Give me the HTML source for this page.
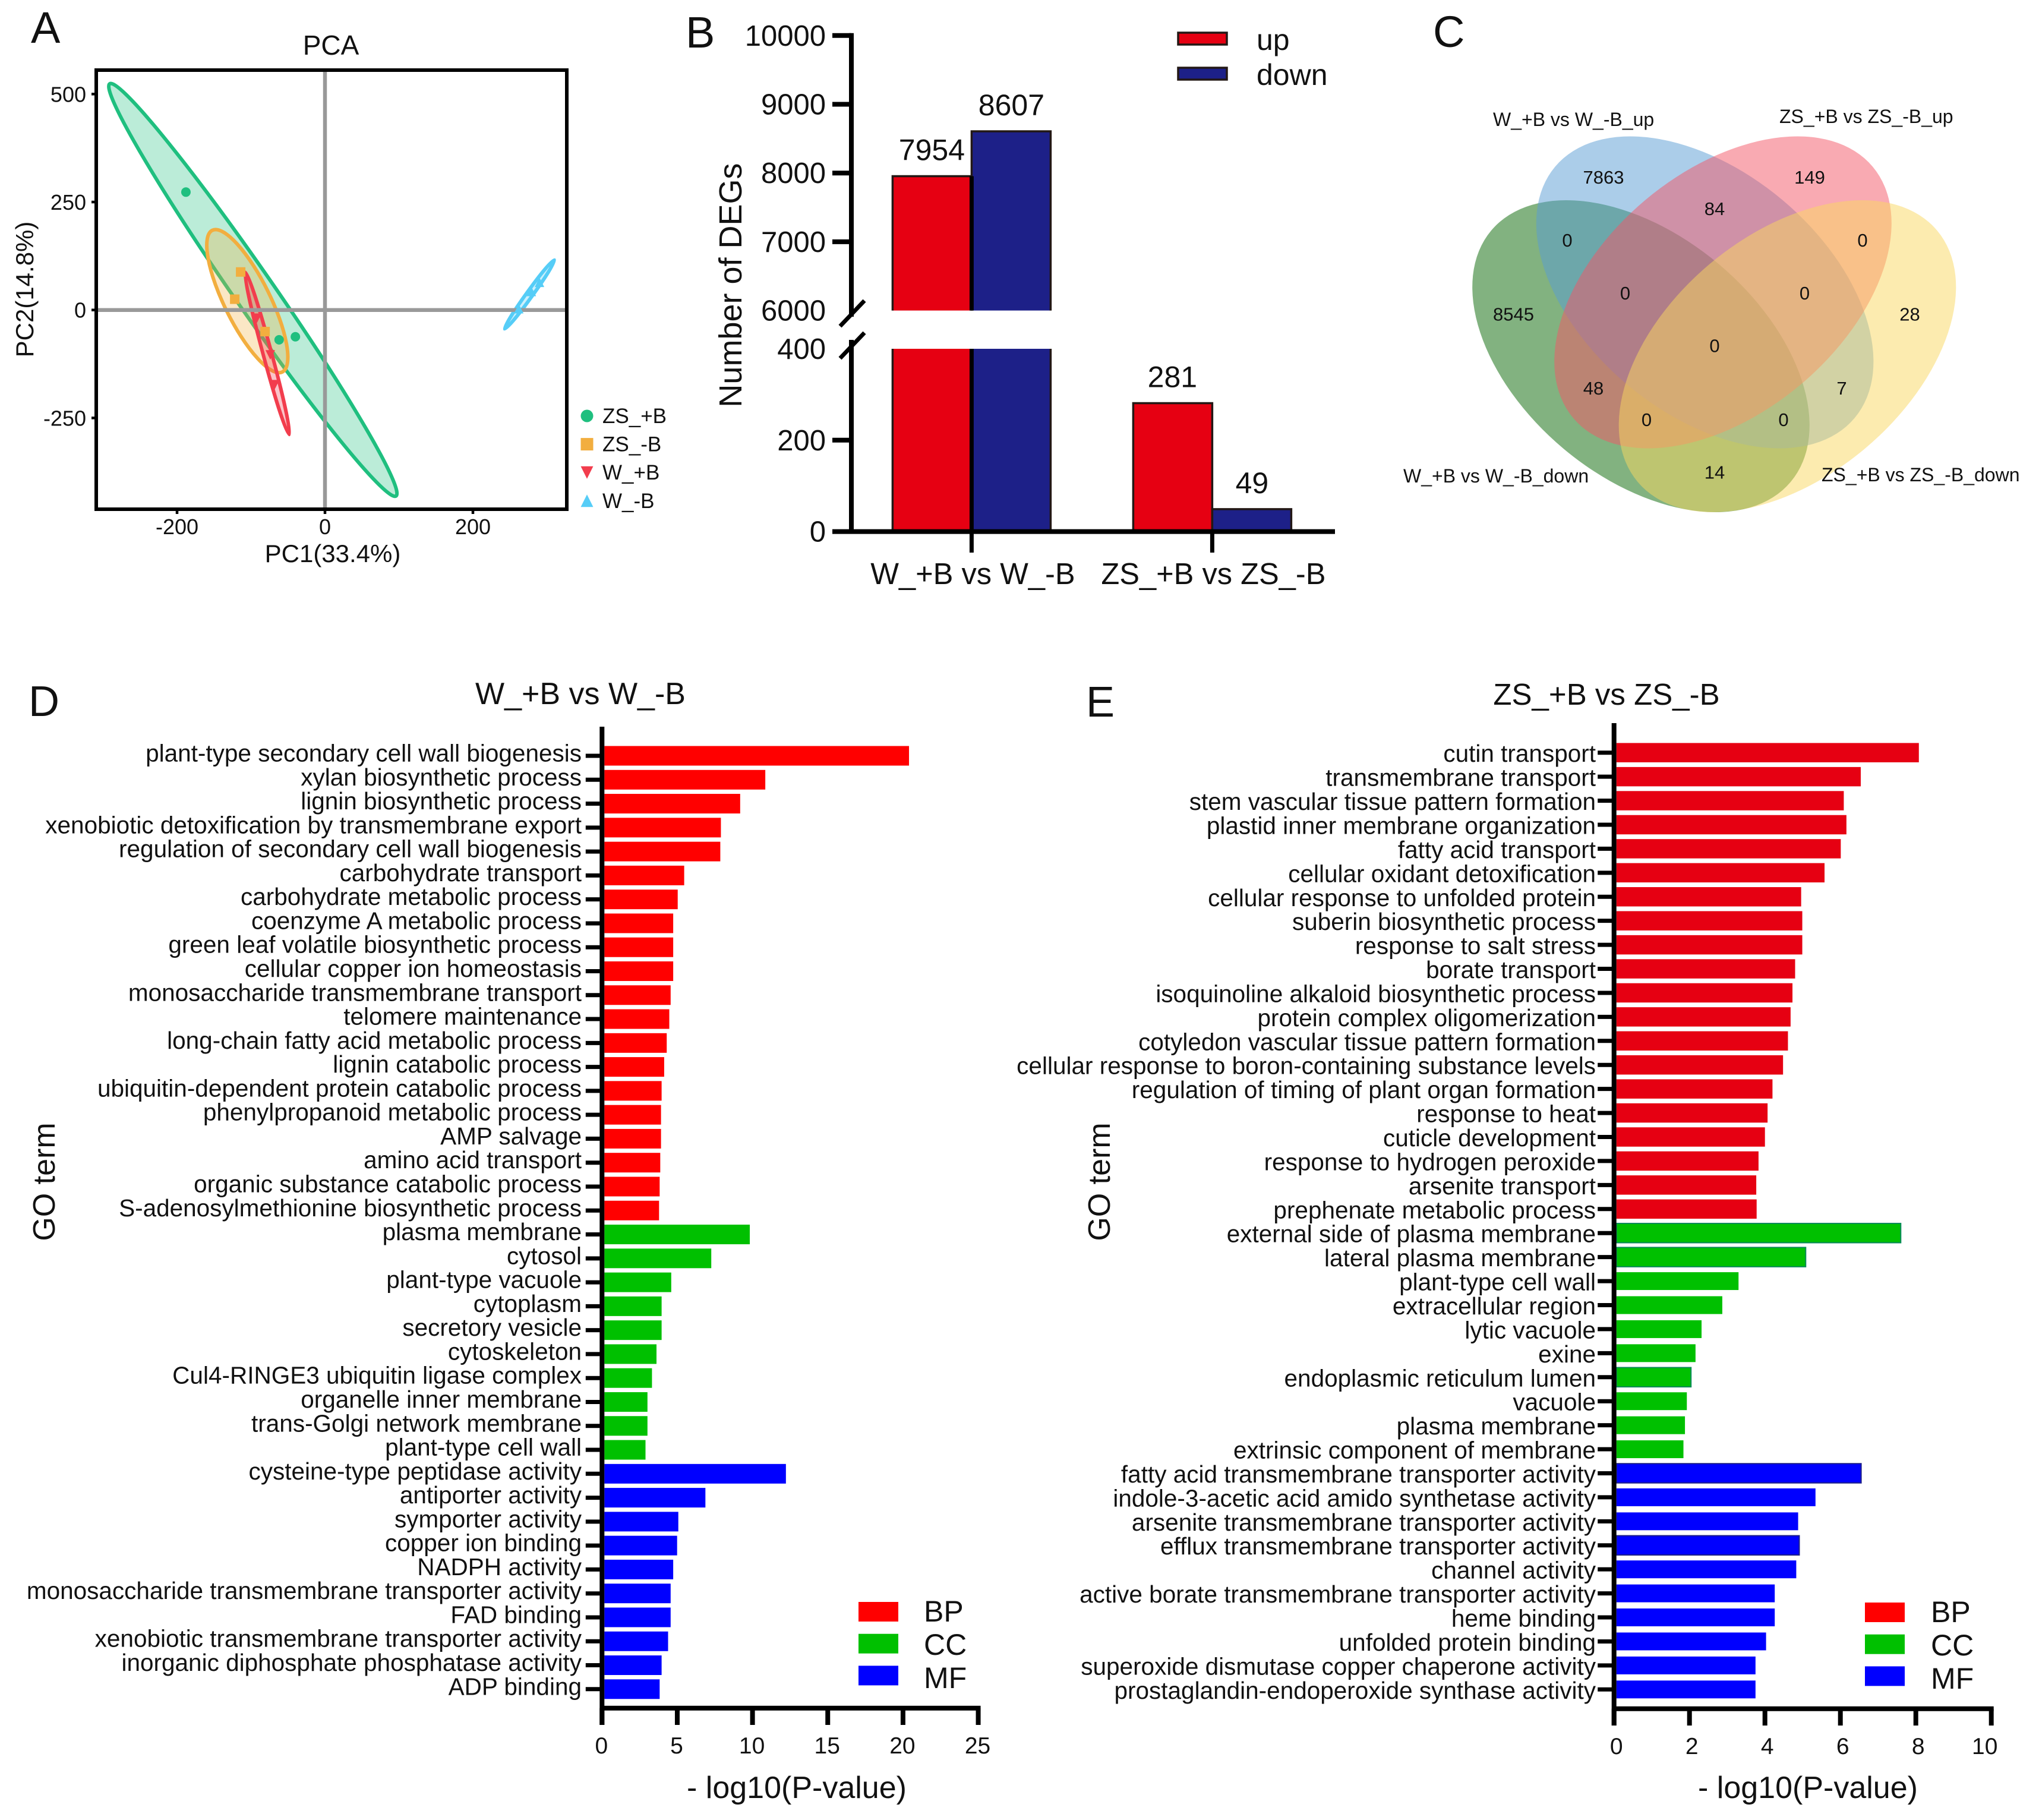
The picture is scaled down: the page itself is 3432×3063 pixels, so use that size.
<!DOCTYPE html>
<html lang="en">
<head>
<meta charset="utf-8">
<title>Transcriptome figure: PCA, DEGs, Venn and GO enrichment</title>
<style>
html,body{margin:0;padding:0;background:#fff;}
svg{display:block;}
text{font-family:"Liberation Sans",Arial,sans-serif;fill:#111;}
</style>
</head>
<body>
<svg id="fig" xmlns="http://www.w3.org/2000/svg" width="3432" height="3063" viewBox="0 0 3432 3063">
  <rect width="3432" height="3063" fill="#fff"/>

  <text x="52" y="72" font-size="74">A</text>
  <text x="1154" y="80" font-size="74">B</text>
  <text x="2412" y="79" font-size="74">C</text>
  <text x="48" y="1205" font-size="72">D</text>
  <text x="1828" y="1206" font-size="72">E</text>

  <g id="pca"></g>
  <g id="deg"></g>

  <g id="venn">
    <ellipse cx="2762" cy="599.5" rx="329" ry="203" transform="rotate(40 2762 599.5)" fill="#056501" fill-opacity="0.5"/>
    <ellipse cx="2869.6" cy="492" rx="329" ry="203" transform="rotate(40 2869.6 492)" fill="#579bd3" fill-opacity="0.5"/>
    <ellipse cx="2900" cy="492" rx="329" ry="203" transform="rotate(-40 2900 492)" fill="#f35565" fill-opacity="0.5"/>
    <ellipse cx="3008.5" cy="599.5" rx="329" ry="203" transform="rotate(-40 3008.5 599.5)" fill="#f9d85f" fill-opacity="0.5"/>
    <g font-size="32">
      <text x="2513" y="212">W_+B vs W_-B_up</text>
      <text x="2995" y="207">ZS_+B vs ZS_-B_up</text>
      <text x="2362" y="812">W_+B vs W_-B_down</text>
      <text x="3066" y="810">ZS_+B vs ZS_-B_down</text>
    </g>
    <g font-size="31" text-anchor="middle">
      <text x="2699" y="309">7863</text>
      <text x="3046" y="309">149</text>
      <text x="2886" y="362">84</text>
      <text x="2638" y="415">0</text>
      <text x="3135" y="415">0</text>
      <text x="2735.5" y="504">0</text>
      <text x="3037.5" y="504">0</text>
      <text x="2547.5" y="539.5">8545</text>
      <text x="3214.5" y="539.5">28</text>
      <text x="2886" y="592.5">0</text>
      <text x="2682" y="664">48</text>
      <text x="3100" y="664">7</text>
      <text x="2771.5" y="717">0</text>
      <text x="3002" y="717">0</text>
      <text x="2886" y="805.5">14</text>
    </g>
  </g>

  <g id="goD"></g>
  <g id="goE"></g>
</svg>

<script>
/* ---------- Panel A data ---------- */
const pcaGroups = ["ZS_+B", "ZS_-B", "W_+B", "W_-B"];
const pcaXTicks = [-200, 0, 200];
const pcaYTicks = [500, 250, 0, -250];
const pcaPc1 = [[-188, -62, -40], [-114, -122, -81], [-92, -74, -68], [290, 279, 262]];
const pcaPc2 = [[273, -69, -62], [88, 25, -50], [-19, -104, -173], [64, 43, 3]];
const ellipseTipA = [[-292, 526], [-153, 187], [-108, 90], [311, 118]];
const ellipseTipB = [[97, -433], [-57, -146], [-48, -291], [242, -46]];
const ellipseAspect = [0.078, 0.285, 0.05, 0.07];

/* ---------- Panel B data ---------- */
const degCategories = ["W_+B vs W_-B", "ZS_+B vs ZS_-B"];
const degUp = [7954, 281];
const degDown = [8607, 49];
const degUpperTicks = [10000, 9000, 8000, 7000, 6000];
const degLowerTicks = [400, 200, 0];

/* ---------- Panel D data ---------- */
const dTerms = ["plant-type secondary cell wall biogenesis","xylan biosynthetic process","lignin biosynthetic process","xenobiotic detoxification by transmembrane export","regulation of secondary cell wall biogenesis","carbohydrate transport","carbohydrate metabolic process","coenzyme A metabolic process","green leaf volatile biosynthetic process","cellular copper ion homeostasis","monosaccharide transmembrane transport","telomere maintenance","long-chain fatty acid metabolic process","lignin catabolic process","ubiquitin-dependent protein catabolic process","phenylpropanoid metabolic process","AMP salvage","amino acid transport","organic substance catabolic process","S-adenosylmethionine biosynthetic process","plasma membrane","cytosol","plant-type vacuole","cytoplasm","secretory vesicle","cytoskeleton","Cul4-RINGE3 ubiquitin ligase complex","organelle inner membrane","trans-Golgi network membrane","plant-type cell wall","cysteine-type peptidase activity","antiporter activity","symporter activity","copper ion binding","NADPH activity","monosaccharide transmembrane transporter activity","FAD binding","xenobiotic transmembrane transporter activity","inorganic diphosphate phosphatase activity","ADP binding"];
const dValues = [20.4,10.85,9.18,7.9,7.86,5.46,5.03,4.73,4.73,4.73,4.56,4.47,4.3,4.13,3.96,3.92,3.92,3.87,3.83,3.79,9.82,7.26,4.6,3.96,3.96,3.62,3.32,3.02,3.02,2.89,12.22,6.87,5.07,4.99,4.73,4.56,4.56,4.39,3.96,3.83];
const dXTicks = [0, 5, 10, 15, 20, 25];

/* ---------- Panel E data ---------- */
const eTerms = ["cutin transport","transmembrane transport","stem vascular tissue pattern formation","plastid inner membrane organization","fatty acid transport","cellular oxidant detoxification","cellular response to unfolded protein","suberin biosynthetic process","response to salt stress","borate transport","isoquinoline alkaloid biosynthetic process","protein complex oligomerization","cotyledon vascular tissue pattern formation","cellular response to boron-containing substance levels","regulation of timing of plant organ formation","response to heat","cuticle development","response to hydrogen peroxide","arsenite transport","prephenate metabolic process","external side of plasma membrane","lateral plasma membrane","plant-type cell wall","extracellular region","lytic vacuole","exine","endoplasmic reticulum lumen","vacuole","plasma membrane","extrinsic component of membrane","fatty acid transmembrane transporter activity","indole-3-acetic acid amido synthetase activity","arsenite transmembrane transporter activity","efflux transmembrane transporter activity","channel activity","active borate transmembrane transporter activity","heme binding","unfolded protein binding","superoxide dismutase copper chaperone activity","prostaglandin-endoperoxide synthase activity"];
const eValues = [8.08,6.54,6.09,6.16,6.01,5.58,4.96,4.99,4.99,4.8,4.73,4.68,4.61,4.48,4.2,4.07,4,3.83,3.77,3.78,7.6,5.08,3.3,2.87,2.32,2.16,2.04,1.93,1.88,1.84,6.55,5.34,4.88,4.91,4.83,4.26,4.26,4.03,3.75,3.75];
const eXTicks = [0, 2, 4, 6, 8, 10];
const goGroups = ["BP", "CC", "MF"];
const goGroupSizes = [20, 10, 10];

const NS = "http://www.w3.org/2000/svg";
function mk(parent, tag, attrs, txt) {
  const el = document.createElementNS(NS, tag);
  for (const k in attrs) el.setAttribute(k, attrs[k]);
  if (txt !== undefined) el.textContent = txt;
  parent.appendChild(el);
  return el;
}

/* ---------- Panel A ---------- */
(function () {
  const g = document.getElementById("pca");
  const px = v => 547 + 1.245 * v;
  const py = v => 521.7 - 0.7268 * v;
  const colors = ["#1fbf7f", "#f2ae3f", "#f23d4d", "#56cdf7"];

  pcaGroups.forEach((name, i) => {
    const x1 = px(ellipseTipA[i][0]), y1 = py(ellipseTipA[i][1]);
    const x2 = px(ellipseTipB[i][0]), y2 = py(ellipseTipB[i][1]);
    const half = Math.hypot(x2 - x1, y2 - y1) / 2;
    const cx = (x1 + x2) / 2, cy = (y1 + y2) / 2;
    const ang = Math.atan2(y2 - y1, x2 - x1) * 180 / Math.PI;
    const e = mk(g, "ellipse", { cx: cx, cy: cy, rx: half - 2, ry: half * ellipseAspect[i],
      transform: "rotate(" + ang + " " + cx + " " + cy + ")",
      fill: colors[i], "fill-opacity": 0.3, stroke: colors[i], "stroke-width": 6 });
    
    
  });

  const h0 = mk(g, "line", { x1: 162, x2: 954, y1: py(0), y2: py(0), stroke: "#999", "stroke-width": 6.5 });
  
  
  const v0 = mk(g, "line", { x1: px(0), x2: px(0), y1: 118, y2: 857, stroke: "#999", "stroke-width": 6.5 });
  
  

  const frame = mk(g, "rect", { x: 162, y: 118, width: 792, height: 739, fill: "none", stroke: "#000", "stroke-width": 6 });
  
  

  function marker(i, x, y, s) {
    if (i === 0) return mk(g, "circle", { cx: x, cy: y, r: s, fill: colors[0] });
    if (i === 1) return mk(g, "rect", { x: x - s, y: y - s, width: 2 * s, height: 2 * s, fill: colors[1] });
    if (i === 2) return mk(g, "polygon", { points: (x - s) + "," + (y - s) + " " + (x + s) + "," + (y - s) + " " + x + "," + (y + s), fill: colors[2] });
    return mk(g, "polygon", { points: (x - s) + "," + (y + s) + " " + (x + s) + "," + (y + s) + " " + x + "," + (y - s), fill: colors[3] });
  }
  pcaGroups.forEach((name, i) => {
    pcaPc1[i].forEach((v, j) => {
      const m = marker(i, px(v), py(pcaPc2[i][j]), 8);
      
      
    });
    const y = 700 + i * 47.6;
    const lm = marker(i, 988, y, 10.5);
    
    
    const lt = mk(g, "text", { x: 1014, y: y + 12, "font-size": 35 }, name);
    
    
  });

  pcaXTicks.forEach(v => {
    const t = mk(g, "line", { x1: px(v), x2: px(v), y1: 857, y2: 865, stroke: "#000", "stroke-width": 4.5 });
    
    
    const l = mk(g, "text", { x: px(v), y: 899, "font-size": 36, "text-anchor": "middle" }, v);
    
    
  });
  pcaYTicks.forEach(v => {
    const t = mk(g, "line", { x1: 154, x2: 162, y1: py(v), y2: py(v), stroke: "#000", "stroke-width": 4.5 });
    
    
    const l = mk(g, "text", { x: 145, y: py(v) + 13, "font-size": 36, "text-anchor": "end" }, v);
    
    
  });

  const title = mk(g, "text", { x: 557, y: 92, "font-size": 46, "text-anchor": "middle" }, "PCA");
  
  
  const xt = mk(g, "text", { x: 560, y: 946, "font-size": 42, "text-anchor": "middle" }, "PC1(33.4%)");
  
  
  const yt = mk(g, "text", { transform: "translate(56,487) rotate(-90)", "font-size": 42, "text-anchor": "middle" }, "PC2(14.8%)");
  
  
})();

/* ---------- Panel B ---------- */
(function () {
  const g = document.getElementById("deg");
  const BREAK_LOW = 400, BREAK_HIGH = 6000;
  const yLow = v => 894.6 - 0.769 * v;
  const yHigh = v => 522.6 - 0.1157 * (v - BREAK_HIGH);
  const y = v => v >= BREAK_HIGH ? yHigh(v) : yLow(Math.min(v, BREAK_LOW));
  const groupX = i => 1635.4 + 405 * i;
  const barW = 133;
  const seriesFill = ["#e60012", "#1d2088"];
  const edge = "#231815";

  function drawBar(x0, v, fill) {
    const x1 = x0 + barW;
    const parts = [];
    if (v > BREAK_LOW) {
      parts.push([y(v), yHigh(BREAK_HIGH), "M" + x0 + "," + yHigh(BREAK_HIGH) + "V" + y(v) + "H" + x1 + "V" + yHigh(BREAK_HIGH)]);
      parts.push([yLow(BREAK_LOW), yLow(0), "M" + x0 + "," + yLow(BREAK_LOW) + "V" + yLow(0) + "M" + x1 + "," + yLow(BREAK_LOW) + "V" + yLow(0)]);
    } else {
      parts.push([yLow(v), yLow(0), "M" + x0 + "," + yLow(0) + "V" + yLow(v) + "H" + x1 + "V" + yLow(0)]);
    }
    parts.forEach(p => {
      const r = mk(g, "rect", { x: x0, y: p[0], width: barW, height: p[1] - p[0], fill: fill });
      
      
      const o = mk(g, "path", { d: p[2], fill: "none", stroke: edge, "stroke-width": 3.5 });
      
      
    });
  }

  degCategories.forEach((cat, i) => {
    const cx = groupX(i);
    drawBar(cx - barW, degUp[i], seriesFill[0]);
    drawBar(cx, degDown[i], seriesFill[1]);
    const shorter = Math.min(degUp[i], degDown[i]);
    if (shorter > BREAK_LOW) {
      const d1 = mk(g, "line", { x1: cx, x2: cx, y1: y(shorter), y2: yHigh(BREAK_HIGH), stroke: "#000", "stroke-width": 7 });
      
      
      const d2 = mk(g, "line", { x1: cx, x2: cx, y1: yLow(BREAK_LOW), y2: yLow(0), stroke: "#000", "stroke-width": 7 });
      
      
    }
    const upLabel = mk(g, "text", { x: cx - 67, y: y(degUp[i]) - 27, "font-size": 50, "text-anchor": "middle" }, degUp[i]);
    
    
    const downLabel = mk(g, "text", { x: cx + 67, y: y(degDown[i]) - 27, "font-size": 50, "text-anchor": "middle" }, degDown[i]);
    
    
    const tick = mk(g, "line", { x1: cx, x2: cx, y1: yLow(0), y2: 930, stroke: "#000", "stroke-width": 7 });
    
    
    const lab = mk(g, "text", { x: cx + 2, y: 983, "font-size": 50.6, "text-anchor": "middle" }, cat);
    
    
  });

  const axes = "M1433," + (yHigh(10000) - 4) + "V533M1433,572V" + (yLow(0) + 4) + "M1401," + yLow(0) + "H2247";
  const ax = mk(g, "path", { d: axes, fill: "none", stroke: "#000", "stroke-width": 8 });
  
  
  const brk = mk(g, "path", { d: "M1414,549L1455,506M1414,603L1455,560", fill: "none", stroke: "#000", "stroke-width": 7 });
  
  

  degUpperTicks.concat(degLowerTicks).forEach(v => {
    const yy = y(v);
    const showLine = !(v === BREAK_HIGH || v === BREAK_LOW || v === 0);
    if (showLine) {
      const t = mk(g, "line", { x1: 1401, x2: 1433, y1: yy, y2: yy, stroke: "#000", "stroke-width": 8 });
      
      
    }
    const l = mk(g, "text", { x: 1390, y: yy + 17, "font-size": 49, "text-anchor": "end" }, v);
    
    
  });

  const yTitle = mk(g, "text", { transform: "translate(1248,480) rotate(-90)", "font-size": 54, "text-anchor": "middle" }, "Number of DEGs");
  
  

  ["up", "down"].forEach((name, i) => {
    const yy = 54 + i * 59;
    const s = mk(g, "rect", { x: 1983, y: yy + 1, width: 82, height: 20, fill: seriesFill[i], stroke: edge, "stroke-width": 3.5 });
    
    
    const t = mk(g, "text", { x: 2115, y: yy + 30, "font-size": 50 }, name);
    
    
  });
})();

/* ---------- Panels D and E ---------- */
function drawGo(opts) {
  const g = document.getElementById(opts.id);
  const xs = v => opts.x0 + opts.unit * v;
  const rowY = i => opts.firstY + i * (opts.lastY - opts.firstY) / (opts.terms.length - 1);

  let start = 0;
  goGroupSizes.forEach((size, gi) => {
    for (let i = start; i < start + size; i++) {
      const yy = rowY(i);
      const h = opts.barH(i, gi);
      const stroke = opts.edge(i);
      const r = mk(g, "rect", { x: opts.x0 + 4, y: yy - h / 2, width: xs(opts.values[i]) - opts.x0 - 4, height: h,
        fill: opts.colors[gi], stroke: stroke || "none", "stroke-width": stroke ? 2 : 0 });
      
      
      const t = mk(g, "line", { x1: opts.x0 - 27.5, x2: opts.x0, y1: yy, y2: yy, stroke: "#000", "stroke-width": 7 });
      
      
      const l = mk(g, "text", { x: opts.labelX, y: yy + opts.labelDy, "font-size": 40.5, "text-anchor": "end" }, opts.terms[i]);
      
      
    }
    start += size;
  });

  const ax = mk(g, "path", { d: "M" + opts.x0 + "," + opts.axisTop + "V" + opts.tickBottom + "M" + (opts.x0 - 4) + "," + opts.axisY + "H" + (xs(opts.xTicks[opts.xTicks.length - 1]) + 4), fill: "none", stroke: "#000", "stroke-width": 8 });
  
  

  opts.xTicks.forEach((v, i) => {
    const t = mk(g, "line", { x1: xs(v), x2: xs(v), y1: opts.axisY, y2: opts.tickBottom, stroke: "#000", "stroke-width": 8 });
    
    
    const last = i === opts.xTicks.length - 1;
    const l = mk(g, "text", { x: xs(v) + (last ? opts.lastTickShift : opts.tickShift), y: opts.tickLabelY, "font-size": 39, "text-anchor": "middle" }, v);
    
    
  });

  const title = mk(g, "text", { x: opts.titleX, y: opts.titleY, "font-size": opts.titleSize, "text-anchor": "middle" }, opts.title);
  
  
  const xt = mk(g, "text", { x: opts.xTitleX, y: 3026, "font-size": 52, "text-anchor": "middle" }, "- log10(P-value)");
  
  
  const yt = mk(g, "text", { transform: "translate(" + opts.yTitleX + ",1989) rotate(-90)", "font-size": 52, "text-anchor": "middle" }, "GO term");
  
  

  goGroups.forEach((name, i) => {
    const s = mk(g, "rect", { x: opts.legendX, y: opts.legendY + i * 53.7, width: 67, height: 33, fill: opts.legendColors[i] });
    
    
    const t = mk(g, "text", { x: opts.legendX + opts.legendTextDx, y: opts.legendY + 33 + i * 56, "font-size": 50 }, name);
    
    
  });
}

drawGo({
  id: "goD", terms: dTerms, values: dValues, xTicks: dXTicks, title: "W_+B vs W_-B", titleSize: 52,
  x0: 1013.3, unit: 25.33, firstY: 1272, lastY: 2842.8, axisTop: 1223, axisY: 2874.7, tickBottom: 2903,
  labelX: 979, labelDy: 9.5, tickLabelY: 2951, tickShift: -1, lastTickShift: -1,
  colors: ["#ff0000", "#00c000", "#0000ff"], legendColors: ["#ff0000", "#00c000", "#0000ff"],
  barH: () => 33, edge: () => null,
  titleX: 977, titleY: 1185, xTitleX: 1341, yTitleX: 92,
  legendX: 1445, legendY: 2696, legendTextDx: 110
});

drawGo({
  id: "goE", terms: eTerms, values: eValues, xTicks: eXTicks, title: "ZS_+B vs ZS_-B", titleSize: 51,
  x0: 2716.7, unit: 63.5, firstY: 1266.7, lastY: 2843.3, axisTop: 1217, axisY: 2875.7, tickBottom: 2904,
  labelX: 2686, labelDy: 15.5, tickLabelY: 2952, tickShift: 4, lastTickShift: -11,
  colors: ["#e60012", "#00c000", "#0000ff"], legendColors: ["#ff0000", "#00c000", "#0000ff"],
  barH: (i, gi) => (gi === 0 || i === 20 || i === 21 || i === 26 || i === 30 || i === 33) ? 32.5 : 30,
  edge: i => (i === 20 || i === 21 || i === 26) ? "#0a8a5a" : ((i === 30 || i === 33) ? "#1d2088" : null),
  titleX: 2704, titleY: 1186, xTitleX: 3043, yTitleX: 1868,
  legendX: 3139, legendY: 2697, legendTextDx: 111
});
</script>
</body>
</html>
